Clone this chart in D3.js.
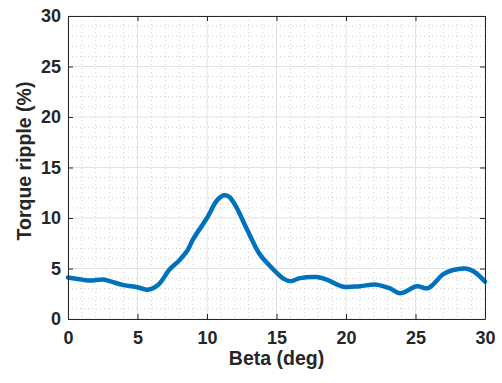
<!DOCTYPE html>
<html>
<head>
<meta charset="utf-8">
<script src="https://cdn.jsdelivr.net/npm/d3@7"></script>
<style>
  body { margin: 0; background: #fff; }
  svg { display: block; font-family: "Liberation Sans", Arial, sans-serif; }
</style>
</head>
<body>
<div id="chart"></div>
<script>
// torque ripple vs beta
const beta = [0, 1, 1.6, 2.5, 3, 4, 5, 5.7, 6.5, 7.3, 8, 8.6, 9, 10, 10.7, 11.2, 11.6, 12.1, 12.9, 13.8,
  14.5, 15, 15.5, 16, 16.7, 17.9, 18.6, 19.8, 21, 22.2, 23.2, 23.9, 25.1, 25.9, 27, 27.7, 28.6, 29.2, 30];
const ripple = [4.1, 3.9, 3.8, 3.9, 3.75, 3.35, 3.15, 2.9, 3.4, 4.9, 5.8, 6.8, 7.9, 10.0, 11.7, 12.25, 12.1, 11.1, 8.8, 6.4,
  5.3, 4.6, 4.0, 3.75, 4.05, 4.15, 3.9, 3.2, 3.25, 3.4, 3.0, 2.55, 3.25, 3.05, 4.45, 4.85, 5.0, 4.7, 3.7];
const xTicks = [0, 5, 10, 15, 20, 25, 30];
const yTicks = [0, 5, 10, 15, 20, 25, 30];
const minorTicks = d3.range(0, 31, 1);

const W = 502, H = 383;
const margin = { top: 16, right: 17, bottom: 64, left: 68 };
const width = W - margin.left - margin.right;
const height = H - margin.top - margin.bottom;

const svg = d3.select("#chart").append("svg")
  .attr("width", W)
  .attr("height", H);

const g = svg.append("g")
  .attr("transform", `translate(${margin.left},${margin.top})`);

const x = d3.scaleLinear().domain([0, 30]).range([0, width]);
const y = d3.scaleLinear().domain([0, 30]).range([height, 0]);

// minor grid (dotted)
g.append("g").selectAll("line.mx")
  .data(minorTicks.filter(d => d % 5 !== 0))
  .join("line")
  .attr("x1", d => x(d)).attr("x2", d => x(d))
  .attr("y1", 0).attr("y2", height)
  .attr("stroke", "#cfcfcf").attr("stroke-width", 1)
  .attr("stroke-dasharray", "1,3");
g.append("g").selectAll("line.my")
  .data(minorTicks.filter(d => d % 5 !== 0))
  .join("line")
  .attr("x1", 0).attr("x2", width)
  .attr("y1", d => y(d)).attr("y2", d => y(d))
  .attr("stroke", "#cfcfcf").attr("stroke-width", 1)
  .attr("stroke-dasharray", "1,3");

// major grid
g.append("g").selectAll("line")
  .data(xTicks)
  .join("line")
  .attr("x1", d => x(d)).attr("x2", d => x(d))
  .attr("y1", 0).attr("y2", height)
  .attr("stroke", "#e2e2e2");
g.append("g").selectAll("line")
  .data(yTicks)
  .join("line")
  .attr("x1", 0).attr("x2", width)
  .attr("y1", d => y(d)).attr("y2", d => y(d))
  .attr("stroke", "#e2e2e2");

// data line
const line = d3.line()
  .x((d, i) => x(beta[i]))
  .y(d => y(d))
  .curve(d3.curveCatmullRom.alpha(0.5));

g.append("path")
  .datum(ripple)
  .attr("d", line)
  .attr("fill", "none")
  .attr("stroke", "#0072BD")
  .attr("stroke-width", 4.5)
  .attr("stroke-linejoin", "round")
  .attr("stroke-linecap", "round");

// axes, ticks inward on all sides
const axisColor = "#262626";
const xAxis = d3.axisBottom(x).tickValues(xTicks).tickSize(-5).tickPadding(12).tickSizeOuter(0);
const yAxis = d3.axisLeft(y).tickValues(yTicks).tickSize(-5).tickPadding(7).tickSizeOuter(0);

const xg = g.append("g").attr("transform", `translate(0,${height})`).call(xAxis);
const yg = g.append("g").call(yAxis);
g.append("g").call(d3.axisTop(x).tickValues(xTicks).tickSize(-5).tickFormat("").tickSizeOuter(0));
g.append("g").attr("transform", `translate(${width},0)`)
  .call(d3.axisRight(y).tickValues(yTicks).tickSize(-5).tickFormat("").tickSizeOuter(0));

g.selectAll(".domain, .tick line").attr("stroke", axisColor).attr("stroke-width", 1);
g.selectAll(".tick text")
  .attr("fill", axisColor)
  .style("font-size", "18px")
  .style("font-weight", "bold")
  .style("font-family", "'Liberation Sans', Arial, sans-serif");

// labels
svg.append("text")
  .attr("x", margin.left + width / 2)
  .attr("y", 365)
  .attr("text-anchor", "middle")
  .attr("fill", axisColor)
  .style("font-size", "19.5px")
  .style("font-weight", "bold")
  .text("Beta (deg)");

svg.append("text")
  .attr("transform", `translate(31,161) rotate(-90)`)
  .attr("text-anchor", "middle")
  .attr("fill", axisColor)
  .style("font-size", "19.5px")
  .style("font-weight", "bold")
  .text("Torque ripple (%)");
</script>
</body>
</html>
